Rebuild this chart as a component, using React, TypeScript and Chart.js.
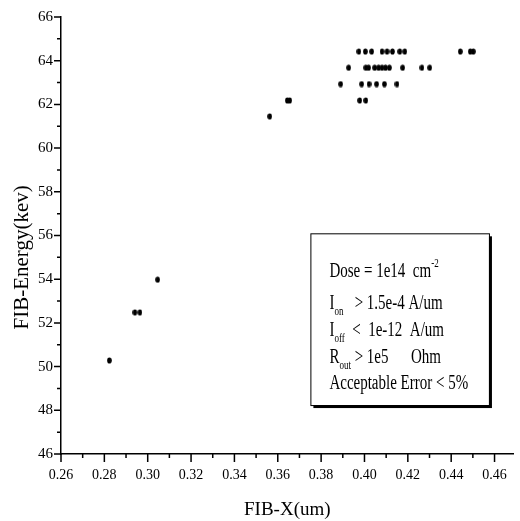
import React, { useEffect, useRef } from "react";
import { Chart, registerables } from "chart.js";

Chart.register(...registerables);

// ---- data ----
const fibX = [
  0.2823, 0.2941, 0.2964, 0.3046, 0.3563, 0.3644, 0.3655,
  0.3978, 0.4006,
  0.389, 0.3987, 0.4021, 0.4056, 0.4092, 0.415,
  0.3927, 0.4006, 0.4019, 0.4047, 0.4065, 0.4081, 0.4097, 0.4115, 0.4176, 0.4265, 0.4301,
  0.3974, 0.4004, 0.4033, 0.4081, 0.4104, 0.4129, 0.4163, 0.4186, 0.4442, 0.4488, 0.4502,
];
const fibEnergy = [
  50.28, 52.48, 52.48, 53.98, 61.45, 62.18, 62.18,
  62.18, 62.18,
  62.93, 62.93, 62.93, 62.93, 62.93, 62.93,
  63.68, 63.68, 63.68, 63.68, 63.68, 63.68, 63.68, 63.68, 63.68, 63.68, 63.68,
  64.42, 64.42, 64.42, 64.42, 64.42, 64.42, 64.42, 64.42, 64.42, 64.42, 64.42,
];

const xMajorTicks = [0.26, 0.28, 0.3, 0.32, 0.34, 0.36, 0.38, 0.4, 0.42, 0.44, 0.46];
const xMinorTicks = [0.27, 0.29, 0.31, 0.33, 0.35, 0.37, 0.39, 0.41, 0.43, 0.45];
const yMajorTicks = [46, 48, 50, 52, 54, 56, 58, 60, 62, 64, 66];
const yMinorTicks = [47, 49, 51, 53, 55, 57, 59, 61, 63, 65];
const xRange = [0.26, 0.4688];
const yRange = [46, 66];

const xTitle = "FIB-X(um)";
const yTitle = "FIB-Energy(kev)";

type Seg = { t: string; sup?: boolean; sub?: boolean };
const legendLines: Seg[][] = [
  [{ t: "Dose = 1e14  cm" }, { t: "-2", sup: true }],
  [{ t: "I" }, { t: "on", sub: true }, { t: "   > 1.5e-4 A/um" }],
  [{ t: "I" }, { t: "off", sub: true }, { t: "  <  1e-12  A/um" }],
  [{ t: "R" }, { t: "out", sub: true }, { t: " > 1e5      Ohm" }],
  [{ t: "Acceptable Error < 5%" }],
];

const FONT = "'Liberation Serif', 'Times New Roman', serif";

function makeDot(): HTMLCanvasElement {
  const c = document.createElement("canvas");
  c.width = 5;
  c.height = 7;
  const g = c.getContext("2d")!;
  g.fillStyle = "#000";
  g.beginPath();
  g.ellipse(2.5, 3.5, 2.3, 3.1, 0, 0, Math.PI * 2);
  g.fill();
  return c;
}

const tickPlugin = {
  id: "customTicks",
  afterDraw(chart: any) {
    const ctx = chart.ctx;
    const xs = chart.scales.x;
    const ys = chart.scales.y;
    const { left, bottom, top } = chart.chartArea;
    ctx.save();
    ctx.strokeStyle = "#000";
    ctx.lineWidth = 1.5;
    ctx.beginPath();
    xMajorTicks.forEach((v) => {
      const px = xs.getPixelForValue(v);
      ctx.moveTo(px, bottom);
      ctx.lineTo(px, bottom + 8);
    });
    xMinorTicks.forEach((v) => {
      const px = xs.getPixelForValue(v);
      ctx.moveTo(px, bottom);
      ctx.lineTo(px, bottom + 4);
    });
    yMajorTicks.forEach((v) => {
      const py = ys.getPixelForValue(v);
      ctx.moveTo(left, py);
      ctx.lineTo(left - 7, py);
    });
    yMinorTicks.forEach((v) => {
      const py = ys.getPixelForValue(v);
      ctx.moveTo(left, py);
      ctx.lineTo(left - 4, py);
    });
    ctx.stroke();

    // y-axis title (rotated text)
    const h = bottom - top;
    ctx.translate(22, (top + bottom) / 2 + 0.05 * h);
    ctx.rotate(-Math.PI / 2);
    ctx.font = `21px ${FONT}`;
    ctx.fillStyle = "#000";
    ctx.textAlign = "center";
    ctx.textBaseline = "middle";
    ctx.fillText(yTitle, 0, 0);
    ctx.restore();
  },
};

const legendPlugin = {
  id: "infoBox",
  afterDraw(chart: any) {
    const ctx = chart.ctx;
    const a = chart.chartArea;
    const w = a.right - a.left;
    const h = a.bottom - a.top;
    const bx = a.left + 0.551 * w;
    const by = a.top + 0.495 * h;
    const bw = 0.3945 * w;
    const bh = 0.393 * h;
    ctx.save();
    ctx.fillStyle = "#000";
    ctx.fillRect(bx + 3, by + 3, bw, bh);
    ctx.fillStyle = "#fff";
    ctx.fillRect(bx, by, bw, bh);
    ctx.strokeStyle = "#000";
    ctx.lineWidth = 1;
    ctx.strokeRect(bx + 0.5, by + 0.5, bw, bh);

    const sx = 0.75;
    const mainFont = `20px ${FONT}`;
    const smallFont = `12px ${FONT}`;
    ctx.textBaseline = "alphabetic";
    ctx.fillStyle = "#000";
    const lineYs = [44, 76, 103, 130, 156];
    legendLines.forEach((segs, i) => {
      let x = 0;
      const y = by + lineYs[i];
      segs.forEach((s) => {
        ctx.save();
        ctx.translate(bx + 19 + x, y);
        ctx.scale(sx, 1);
        if (s.sup) {
          ctx.font = smallFont;
          ctx.fillText(s.t, 0, -10);
        } else if (s.sub) {
          ctx.font = smallFont;
          ctx.fillText(s.t, 0, 6);
        } else {
          ctx.font = mainFont;
          ctx.fillText(s.t, 0, 0);
        }
        x += ctx.measureText(s.t).width * sx;
        ctx.restore();
      });
    });
    ctx.restore();
  },
};

export default function App() {
  const ref = useRef<HTMLCanvasElement | null>(null);

  useEffect(() => {
    document.body.style.margin = "0";
    const canvas = ref.current!;
    const dot = makeDot();
    const points = fibX.map((x, i) => ({ x, y: fibEnergy[i] }));
    const chart = new Chart(canvas, {
      type: "scatter",
      data: {
        datasets: [
          {
            data: points,
            pointStyle: dot as any,
            pointRadius: 3,
            backgroundColor: "#000",
            borderColor: "#000",
          },
        ],
      },
      options: {
        animation: false,
        responsive: false,
        devicePixelRatio: 1,
        layout: { padding: { top: 16, right: 0, left: 0, bottom: 0 } },
        plugins: { legend: { display: false }, tooltip: { enabled: false } },
        scales: {
          x: {
            type: "linear",
            min: xRange[0],
            max: xRange[1],
            afterBuildTicks: (s: any) => {
              s.ticks = xMajorTicks.map((v) => ({ value: v }));
            },
            afterFit: (s: any) => {
              s.height = 67;
            },
            grid: { display: false, drawTicks: false },
            border: { display: true, color: "#000", width: 1.5 },
            ticks: {
              padding: 13,
              color: "#000",
              font: { family: FONT, size: 14 },
              maxRotation: 0,
              autoSkip: false,
              callback: (v: any) => Number(v).toFixed(2),
            },
            title: {
              display: true,
              text: xTitle,
              color: "#000",
              font: { family: FONT, size: 19 },
              padding: { top: 0, bottom: 0 },
            },
          },
          y: {
            type: "linear",
            min: yRange[0],
            max: yRange[1],
            afterBuildTicks: (s: any) => {
              s.ticks = yMajorTicks.map((v) => ({ value: v }));
            },
            afterFit: (s: any) => {
              s.width = 61;
            },
            grid: { display: false, drawTicks: false },
            border: { display: true, color: "#000", width: 1.5 },
            ticks: {
              padding: 8,
              color: "#000",
              font: { family: FONT, size: 15 },
              autoSkip: false,
              callback: (v: any) => String(v),
            },
            title: { display: false },
          },
        },
      },
      plugins: [tickPlugin, legendPlugin],
    });
    return () => chart.destroy();
  }, []);

  return (
    <div style={{ width: 520, height: 521, background: "#fff" }}>
      <canvas ref={ref} width={520} height={521} style={{ display: "block" }} />
    </div>
  );
}
